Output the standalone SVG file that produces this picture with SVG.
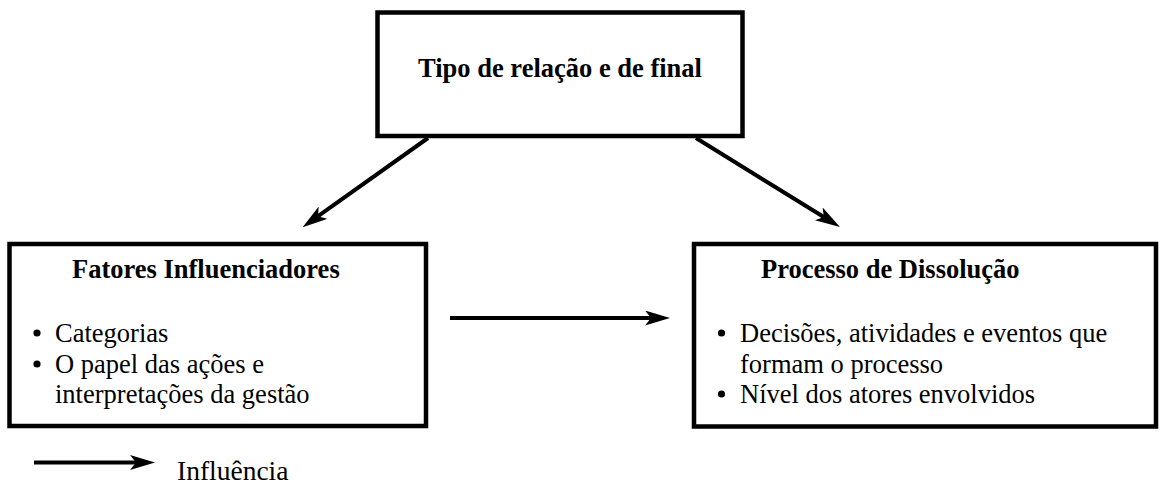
<svg xmlns="http://www.w3.org/2000/svg" width="1160" height="486" viewBox="0 0 1160 486">
  <style>
    .box { fill: #ffffff; stroke: #000000; stroke-width: 4.5; }
    .title { font-family: "Liberation Serif", "Times New Roman", serif; font-weight: bold; font-size: 26.5px; fill: #000000; }
    .item { font-family: "Liberation Serif", "Times New Roman", serif; font-size: 26.5px; fill: #000000; }
    .legend-label { font-family: "Liberation Serif", "Times New Roman", serif; font-size: 27.5px; fill: #000000; }
    .bullet { fill: #000000; }
    .edge { fill: none; stroke: #000000; stroke-width: 4; }
  </style>
  <defs>
    <!-- notched arrowhead; the line ends at the notch -->
    <marker id="head" viewBox="0 0 25 15" refX="6" refY="7.5" markerWidth="25" markerHeight="15" markerUnits="userSpaceOnUse" orient="auto">
      <path d="M0,0 L25,7.5 L0,15 L6,7.5 Z" fill="#000000"/>
    </marker>
  </defs>

  <rect width="1160" height="486" fill="#ffffff"/>

  <g id="connectors">
    <line class="edge" x1="428" y1="138" x2="318.1" y2="216.2" marker-end="url(#head)"/>
    <line class="edge" x1="696" y1="138" x2="823.8" y2="217" marker-end="url(#head)"/>
    <line class="edge" x1="450" y1="318" x2="651" y2="318" marker-end="url(#head)"/>
  </g>

  <g id="node-tipo">
    <rect class="box" x="377.5" y="12.5" width="365" height="123.5"/>
    <text class="title" x="560" y="77" text-anchor="middle">Tipo de relação e de final</text>
  </g>

  <g id="node-fatores">
    <rect class="box" x="9.5" y="244" width="416.5" height="182"/>
    <text class="title" x="72" y="278">Fatores Influenciadores</text>
    <circle class="bullet" cx="37" cy="333" r="3.6"/>
    <text class="item" x="55" y="342">Categorias</text>
    <circle class="bullet" cx="37" cy="364" r="3.6"/>
    <text class="item" x="55" y="373">O papel das ações e</text>
    <text class="item" x="55" y="403">interpretações da gestão</text>
  </g>

  <g id="node-processo">
    <rect class="box" x="694" y="244" width="462" height="182.5"/>
    <text class="title" x="761" y="278">Processo de Dissolução</text>
    <circle class="bullet" cx="721.5" cy="333" r="3.6"/>
    <text class="item" x="740" y="342">Decisões, atividades e eventos que</text>
    <text class="item" x="740" y="373">formam o processo</text>
    <circle class="bullet" cx="721.5" cy="394" r="3.6"/>
    <text class="item" x="740" y="403">Nível dos atores envolvidos</text>
  </g>

  <g id="legend">
    <line class="edge" x1="34" y1="462.5" x2="136" y2="462.5" marker-end="url(#head)"/>
    <text class="legend-label" x="177" y="480">Influência</text>
  </g>
</svg>
